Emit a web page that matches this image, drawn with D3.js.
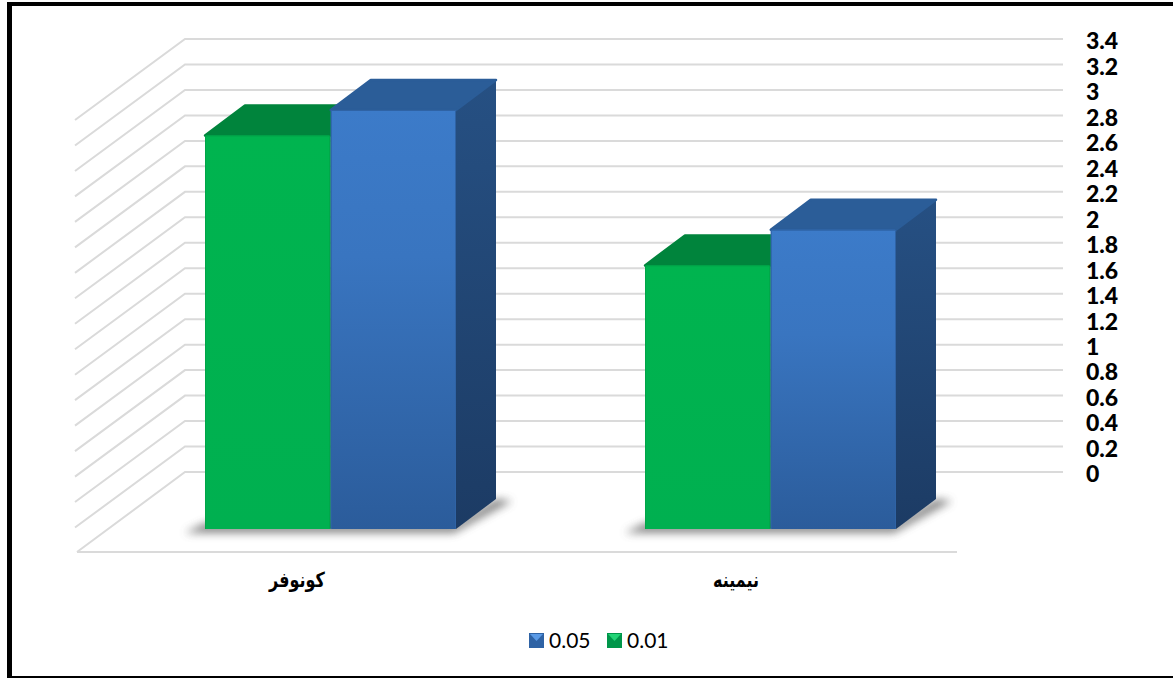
<!DOCTYPE html>
<html><head><meta charset="utf-8">
<script src="https://cdnjs.cloudflare.com/ajax/libs/d3/7.8.5/d3.min.js"></script>
<style>html,body{margin:0;padding:0;background:#fff}svg{display:block}</style></head>
<body><svg id="c" width="1173" height="678"></svg>
<script>
const categories = ["كونوفر", "نيمينه"];
const seriesNames = ["0.01", "0.05"];
const values001 = [3.09, 2.07];
const values005 = [3.29, 2.35];
const tickValues = [0,0.2,0.4,0.6,0.8,1,1.2,1.4,1.6,1.8,2,2.2,2.4,2.6,2.8,3,3.2,3.4];
const legendOrder = ["0.05", "0.01"];

const W=1173,H=678;
const svg=d3.select("#c");
const wall={left:185,right:1063,base:472,top:39};
const floor={left:77,right:957,y:552,wallX:75};
const y=d3.scaleLinear().domain([0,3.4]).range([wall.base,wall.top]);
const barBase=529;
const barH=v=>y(0)-y(v);
const x0=d3.scaleBand().domain(categories).range([70,950]).paddingInner(0).paddingOuter(0);
const x1=d3.scaleBand().domain(seriesNames).range([135,386]).paddingInner(0.004);
const dx=40,dy=-30;

const defs=svg.append("defs");
function grad(id,stops){
  const g=defs.append("linearGradient").attr("id",id).attr("x1",0).attr("y1",0).attr("x2",0).attr("y2",1);
  stops.forEach(s=>g.append("stop").attr("offset",s[0]).attr("stop-color",s[1]));
}
grad("blueF",[[0,"#3c7bc9"],[0.35,"#3975c0"],[1,"#2b5c9b"]]);
grad("blueS",[[0,"#265083"],[1,"#1c3b64"]]);
grad("greenF",[[0,"#00b44f"],[1,"#00b050"]]);
defs.append("filter").attr("id","blur").attr("x","-20%").attr("y","-60%").attr("width","140%").attr("height","220%")
  .append("feGaussianBlur").attr("stdDeviation",4);

svg.append("rect").attr("width",W).attr("height",H).attr("fill","#fff");
const frame=svg.append("g").attr("fill","#000");
frame.append("rect").attr("x",7).attr("y",2).attr("width",W-7).attr("height",4);
frame.append("rect").attr("x",7).attr("y",2).attr("width",5).attr("height",H-2);
frame.append("rect").attr("x",7).attr("y",676).attr("width",W-7).attr("height",2);

const grid=svg.append("g").attr("fill","none").attr("stroke","#dadada").attr("stroke-width",2);
tickValues.forEach(v=>{
  const yy=y(v);
  if(v===0){
    grid.append("path").attr("d",`M${floor.left},${floor.y}L${wall.left},${yy}L${wall.right},${yy}`);
    grid.append("path").attr("d",`M${floor.left},${floor.y}L${floor.right},${floor.y}`);
  } else {
    grid.append("path").attr("d",`M${floor.wallX},${yy+81}L${wall.left},${yy}L${wall.right},${yy}`);
  }
});

const axis=d3.axisRight(y).tickValues(tickValues).tickSize(0).tickPadding(0).tickFormat(d=>String(d));
const axG=svg.append("g").attr("transform","translate(1086,2.5)").call(axis);
axG.select(".domain").remove();
axG.selectAll("text").attr("font-family","Lato, 'Open Sans', sans-serif").attr("font-weight",900)
  .attr("font-size",23).attr("fill","#000");

const labelCenters=[297,736];
categories.forEach((c,i)=>{
  const g=svg.append("g");
  const gx=x0(c);
  const xl=gx+x1(seriesNames[0]);
  const xr=gx+x1(seriesNames[1])+x1.bandwidth();
  g.append("path").attr("d",`M${xl-20},${barBase+4}L${xr-2},${barBase+4}L${xr+dx+16},${barBase+dy+2}L${xr+dx},${barBase+dy}L${xr},${barBase-6}L${xl},${barBase-6}Z`)
    .attr("fill","#555").attr("opacity",0.7).attr("filter","url(#blur)");
  const bars=[[seriesNames[0],values001[i],"url(#greenF)","#00843c","#007a37"],
              [seriesNames[1],values005[i],"url(#blueF)","#2b5d98","url(#blueS)"]];
  bars.forEach(([s,v,front,top,side])=>{
    const xa=gx+x1(s), w=x1.bandwidth(), h=barH(v), yt=barBase-h;
    g.append("path").attr("d",`M${xa+w},${yt}L${xa+w+dx},${yt+dy}L${xa+w+dx},${barBase+dy}L${xa+w},${barBase}Z`).attr("fill",side);
    g.append("path").attr("d",`M${xa},${yt}L${xa+dx},${yt+dy}L${xa+w+dx},${yt+dy}L${xa+w},${yt}Z`)
      .attr("fill",top).attr("stroke",top).attr("stroke-width",2.5).attr("stroke-linejoin","round");
    g.append("rect").attr("x",xa).attr("y",yt).attr("width",w).attr("height",h).attr("rx",1.5).attr("fill",front);
    const edge=s==="0.05"?"#2f63a5":"#00a548";
    g.append("path").attr("d",`M${xa+.5},${barBase}L${xa+.5},${yt+.5}L${xa+w-.5},${yt+.5}L${xa+w-.5},${barBase}`)
      .attr("fill","none").attr("stroke",edge).attr("stroke-width",1);
  });
  g.append("text").attr("transform",`translate(${labelCenters[i]},587) scale(1,1.3)`).attr("text-anchor","middle").attr("direction","rtl")
    .attr("font-family","'DejaVu Sans', sans-serif").attr("font-weight",700).attr("font-size",16).attr("fill","#000").text(c);
});

const legX={"0.05":[529,548],"0.01":[607,626]};
legendOrder.forEach(n=>{
  const [a,b]=legX[n];
  const g=svg.append("g");
  g.append("rect").attr("x",a).attr("y",633).attr("width",15).attr("height",15).attr("fill",n==="0.05"?"#2f63a5":"#00964a");
  g.append("path").attr("d",`M${a+1},${634}L${a+14},${634}L${a+7.5},${641}Z`).attr("fill",n==="0.05"?"#5a9ae6":"#22d476");
  g.append("text").attr("x",b+1).attr("y",648).attr("font-family","Lato, 'Open Sans', sans-serif").attr("font-size",21).attr("fill","#000").text(n);
});
</script></body></html>
